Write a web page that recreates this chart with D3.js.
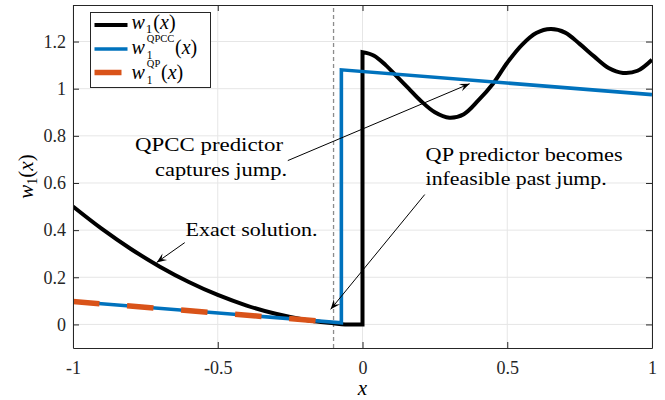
<!DOCTYPE html>
<html lang="en">
<head>
<meta charset="utf-8">
<title>w1 predictors</title>
<script src="https://d3js.org/d3.v7.min.js"></script>
<style>
    body { margin: 0; background: #fff; }
    svg { display: block; }
</style>
</head>
<body>
<div id="chart"></div>
<script>
    // exact solution, jump at x = 0
    var exactLeftX = [-1, -0.9, -0.8, -0.7, -0.6, -0.5, -0.4, -0.3, -0.2, -0.1, -0.06, 0];
    var exactLeftY = [0.5, 0.405, 0.32, 0.245, 0.18, 0.125, 0.08, 0.045, 0.02, 0.005, 0, 0];
    var exactRightX = [0, 0.04, 0.08, 0.12, 0.16, 0.2, 0.25, 0.3, 0.35, 0.4, 0.45, 0.5, 0.55, 0.6, 0.65, 0.7, 0.75, 0.8, 0.85, 0.9, 0.95, 1];
    var exactRightY = [1.155, 1.14, 1.1, 1.05, 1.0, 0.95, 0.9, 0.877, 0.892, 0.95, 1.02, 1.11, 1.185, 1.236, 1.253, 1.238, 1.19, 1.137, 1.088, 1.067, 1.076, 1.123];

    // QPCC predictor
    var qpccX = [-1, -0.073, -0.073, 1];
    var qpccY = [0.097, 0.007, 1.08, 0.975];

    // QP predictor
    var qpX = [-1, -0.1];
    var qpY = [0.097, 0.01];

    var xTicks = [-1, -0.5, 0, 0.5, 1];
    var xTickLabels = ["-1", "-0.5", "0", "0.5", "1"];
    var yTicks = [0, 0.2, 0.4, 0.6, 0.8, 1, 1.2];
    var yTickLabels = ["0", "0.2", "0.4", "0.6", "0.8", "1", "1.2"];
    var jumpGuide = -0.1;

    // annotations in data units: [tailX, tailY, headX, headY]
    var arrowQPCC = [-0.258, 0.695, 0.37, 1.021];
    var arrowExact = [-0.614, 0.347, -0.711, 0.263];
    var arrowQP = [0.215, 0.551, -0.11, 0.064];

    var SERIF = "'Liberation Serif', 'Times New Roman', serif";
    var WIDTH = 665, HEIGHT = 400;
    var margin = { top: 5, right: 13, bottom: 52, left: 73 };

    var svg = d3.select("#chart").append("svg")
        .attr("width", WIDTH)
        .attr("height", HEIGHT)
        .attr("font-family", SERIF);

    var x = d3.scaleLinear().domain([-1, 1]).range([margin.left, WIDTH - margin.right]);
    var y = d3.scaleLinear().domain([-0.1, 1.355]).range([HEIGHT - margin.bottom, margin.top]);

    svg.append("defs").append("clipPath").attr("id", "plotClip")
        .append("rect")
        .attr("x", margin.left).attr("y", margin.top)
        .attr("width", x.range()[1] - x.range()[0])
        .attr("height", y.range()[0] - y.range()[1]);

    // grid
    var grid = svg.append("g").attr("stroke", "#e6e6e6").attr("stroke-width", 1);
    grid.selectAll(".gx").data(xTicks).enter().append("line")
        .attr("x1", d => x(d)).attr("x2", d => x(d))
        .attr("y1", y.range()[0]).attr("y2", y.range()[1]);
    grid.selectAll(".gy").data(yTicks).enter().append("line")
        .attr("x1", x.range()[0]).attr("x2", x.range()[1])
        .attr("y1", d => y(d)).attr("y2", d => y(d));

    // dashed guide at the QP breakdown point
    svg.append("line")
        .attr("x1", x(jumpGuide)).attr("x2", x(jumpGuide))
        .attr("y1", y.range()[0]).attr("y2", y.range()[1])
        .attr("stroke", "#8c8c8c").attr("stroke-width", 1.3)
        .attr("stroke-dasharray", "4,3");

    var plot = svg.append("g").attr("clip-path", "url(#plotClip)");

    var smooth = d3.line()
        .x(d => x(d[0])).y(d => y(d[1]))
        .curve(d3.curveCatmullRom.alpha(0.5));
    var straight = d3.line()
        .x(d => x(d[0])).y(d => y(d[1]));

    var leftPts = d3.zip(exactLeftX, exactLeftY);
    var rightPts = d3.zip(exactRightX, exactRightY);
    plot.append("path")
        .attr("d", smooth(leftPts) + smooth(rightPts).replace(/^M/, "L"))
        .attr("fill", "none").attr("stroke", "#000").attr("stroke-width", 4)
        .attr("stroke-linejoin", "miter");

    plot.append("path")
        .attr("d", straight(d3.zip(qpccX, qpccY)))
        .attr("fill", "none").attr("stroke", "#0072BD").attr("stroke-width", 3.6)
        .attr("stroke-linejoin", "miter");

    plot.append("path")
        .attr("d", straight(d3.zip(qpX, qpY)))
        .attr("fill", "none").attr("stroke", "#D95319").attr("stroke-width", 5.5)
        .attr("stroke-dasharray", "26.5,27.7");

    // axes (ticks pointing inward, box on)
    var axB = svg.append("g").attr("transform", "translate(0," + y.range()[0] + ")")
        .call(d3.axisBottom(x).tickValues(xTicks).tickFormat((d, i) => xTickLabels[i])
            .tickSizeInner(-6).tickSizeOuter(0).tickPadding(13));
    var axL = svg.append("g").attr("transform", "translate(" + x.range()[0] + ",0)")
        .call(d3.axisLeft(y).tickValues(yTicks).tickFormat((d, i) => yTickLabels[i])
            .tickSizeInner(-6).tickSizeOuter(0).tickPadding(7));
    var axT = svg.append("g").attr("transform", "translate(0," + y.range()[1] + ")")
        .call(d3.axisTop(x).tickValues(xTicks).tickFormat("").tickSizeInner(-6).tickSizeOuter(0));
    var axR = svg.append("g").attr("transform", "translate(" + x.range()[1] + ",0)")
        .call(d3.axisRight(y).tickValues(yTicks).tickFormat("").tickSizeInner(-6).tickSizeOuter(0));
    [axB, axL, axT, axR].forEach(function (g) {
        g.attr("font-family", SERIF).attr("font-size", 18);
        g.select(".domain").attr("stroke", "#262626");
        g.selectAll(".tick line").attr("stroke", "#262626");
        g.selectAll(".tick text").attr("fill", "#262626");
    });

    // axis labels
    svg.append("text")
        .attr("x", x(0)).attr("y", 395)
        .attr("text-anchor", "middle").attr("font-size", 21).attr("font-style", "italic")
        .text("x");

    var yl = svg.append("text")
        .attr("transform", "translate(33," + ((y.range()[0] + y.range()[1]) / 2) + ") rotate(-90)")
        .attr("text-anchor", "middle").attr("font-size", 21);
    yl.append("tspan").attr("font-style", "italic").text("w");
    yl.append("tspan").attr("font-size", 14).attr("dy", 4).text("1");
    yl.append("tspan").attr("dy", -4).text("(");
    yl.append("tspan").attr("font-style", "italic").text("x");
    yl.append("tspan").text(")");

    // annotations
    function arrow(a) {
        var x0 = x(a[0]), y0 = y(a[1]), x1 = x(a[2]), y1 = y(a[3]);
        svg.append("line")
            .attr("x1", x0).attr("y1", y0).attr("x2", x1).attr("y2", y1)
            .attr("stroke", "#000").attr("stroke-width", 1);
        var ang = Math.atan2(y1 - y0, x1 - x0);
        var L = 10, W = 4, N = 6;
        var ca = Math.cos(ang), sa = Math.sin(ang);
        var p = [
            [x1, y1],
            [x1 - L * ca + W * sa, y1 - L * sa - W * ca],
            [x1 - N * ca, y1 - N * sa],
            [x1 - L * ca - W * sa, y1 - L * sa + W * ca]
        ];
        svg.append("path").attr("d", "M" + p.join("L") + "Z").attr("fill", "#000");
    }
    arrow(arrowQPCC);
    arrow(arrowExact);
    arrow(arrowQP);

    function annLine(sel, tx, ty, txt, len) {
        sel.append("tspan").attr("x", tx).attr("y", ty)
            .attr("textLength", len).attr("lengthAdjust", "spacingAndGlyphs")
            .text(txt);
    }
    var t1 = svg.append("text").attr("font-size", 19);
    annLine(t1, 135, y(0.736), "QPCC predictor", 148);
    annLine(t1, 155, y(0.630), "captures jump.", 132);

    var t2 = svg.append("text").attr("font-size", 19);
    annLine(t2, x(-0.611), y(0.377), "Exact solution.", 132);

    var t3 = svg.append("text").attr("font-size", 19);
    annLine(t3, x(0.218), y(0.692), "QP predictor becomes", 197);
    annLine(t3, x(0.218), y(0.593), "infeasible past jump.", 181);

    // legend
    var legend = svg.append("g").attr("transform", "translate(90.5,12.5)");
    legend.append("rect").attr("width", 120).attr("height", 75)
        .attr("fill", "#fff").attr("stroke", "#262626").attr("stroke-width", 1);

    var legItems = [
        { color: "#000", width: 4, len: 33, sup: null, cy: 12.5, base: 16 },
        { color: "#0072BD", width: 3.6, len: 33, sup: "QPCC", cy: 36.5, base: 41 },
        { color: "#D95319", width: 5.5, len: 27, sup: "QP", cy: 60, base: 66 }
    ];
    legItems.forEach(function (it) {
        legend.append("line")
            .attr("x1", 4).attr("x2", 4 + it.len)
            .attr("y1", it.cy).attr("y2", it.cy)
            .attr("stroke", it.color).attr("stroke-width", it.width);
        var t = legend.append("text").attr("font-size", 20)
            .attr("x", 41).attr("y", it.base);
        t.append("tspan").attr("font-style", "italic").text("w");
        if (it.sup) {
            // superscript first, then the subscript tucked under it
            t.append("tspan").attr("font-size", 10.5).attr("dx", 2).attr("dy", -12).text(it.sup);
            var supW = t.select("tspan:last-child").node().getComputedTextLength();
            t.append("tspan").attr("font-size", 11.5).attr("dx", -supW).attr("dy", 17).text("1");
            t.append("tspan").attr("dx", supW - 6 + 1).attr("dy", -5).text("(");
        } else {
            t.append("tspan").attr("font-size", 13).attr("dx", 1).attr("dy", 4).text("1");
            t.append("tspan").attr("dx", 1).attr("dy", -4).text("(");
        }
        t.append("tspan").attr("font-style", "italic").text("x");
        t.append("tspan").text(")");
    });
</script>
</body>
</html>
